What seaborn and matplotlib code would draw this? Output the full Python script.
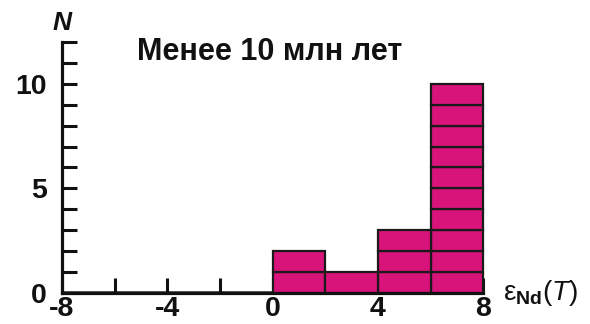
import numpy as np
import pandas as pd
import matplotlib
matplotlib.use("Agg")
import matplotlib.pyplot as plt
from matplotlib.ticker import MultipleLocator, FixedLocator
import seaborn as sns

# Histogram of eNd(T), samples younger than 10 Ma
bin_edges = [-8, -6, -4, -2, 0, 2, 4, 6, 8]
bin_counts = [0, 0, 0, 0, 2, 1, 3, 10]
title_text = "Менее 10 млн лет"
y_label = "N"
x_label = r"ε$_{\mathbf{Nd}}$($\mathit{T}$)"
x_tick_labels = [-8, -4, 0, 4, 8]
y_tick_labels = [0, 5, 10]

sns.set_theme(style="white")
plt.rcParams["font.family"] = ["Liberation Sans", "DejaVu Sans"]
plt.rcParams["mathtext.fontset"] = "custom"
plt.rcParams["mathtext.rm"] = "Liberation Sans"
plt.rcParams["mathtext.it"] = "Liberation Sans:italic"
plt.rcParams["mathtext.bf"] = "Liberation Sans:bold"

# one row per sample; 'layer' is its position in the bin's stack so every
# sample is drawn as its own block
centers = [(a + b) / 2 for a, b in zip(bin_edges[:-1], bin_edges[1:])]
rows = []
for c, n in zip(centers, bin_counts):
    for k in range(n):
        rows.append({"eps": c, "layer": k})
df = pd.DataFrame(rows)
n_layers = int(df["layer"].max()) + 1

fill = "#D8137A"
ink = "#111111"
fig = plt.figure(figsize=(5.9, 3.24), dpi=100)
ax = fig.add_axes([0.105, 0.0957, 0.714, 0.775])

sns.histplot(data=df, x="eps", hue="layer", multiple="stack", bins=bin_edges,
             palette=[fill] * n_layers, legend=False, alpha=1.0,
             edgecolor="#1a1a1a", linewidth=1.6, ax=ax)
for p in ax.patches:
    p.set_clip_on(False)

ax.set_xlim(-8, 8)
ax.set_ylim(0, 12)
sns.despine(ax=ax)
for side in ("left", "bottom"):
    ax.spines[side].set_linewidth(2.3)
    ax.spines[side].set_color(ink)
    ax.spines[side].set_zorder(5)

ax.xaxis.set_major_locator(FixedLocator(x_tick_labels))
ax.xaxis.set_minor_locator(MultipleLocator(2))
ax.yaxis.set_major_locator(FixedLocator(y_tick_labels))
ax.yaxis.set_minor_locator(MultipleLocator(1))
ax.set_xticklabels([str(v) for v in x_tick_labels])
ax.set_yticklabels([str(v) for v in y_tick_labels])

ax.tick_params(axis="both", which="both", direction="in", length=11, width=2.2,
               color=ink, left=True, bottom=True)
ax.tick_params(axis="y", which="major", pad=11)
ax.tick_params(axis="x", which="major", pad=2)
for lab in ax.get_xticklabels() + ax.get_yticklabels():
    lab.set_fontsize(20.5)
    lab.set_fontweight("bold")
    lab.set_color(ink)

ax.set_xlabel("")
ax.set_ylabel("")
ax.text(-0.1, 11.5, title_text, ha="center", va="center", fontsize=22,
        fontweight="bold", color=ink)
ax.text(-8, 12.35, y_label, ha="center", va="bottom", fontsize=19,
        fontweight="bold", fontstyle="italic", color=ink, clip_on=False)
ax.text(8.75, 0.0, x_label, ha="left", va="center", fontsize=20,
        color=ink, clip_on=False)

fig.savefig("out.png", dpi=100, facecolor="white")
